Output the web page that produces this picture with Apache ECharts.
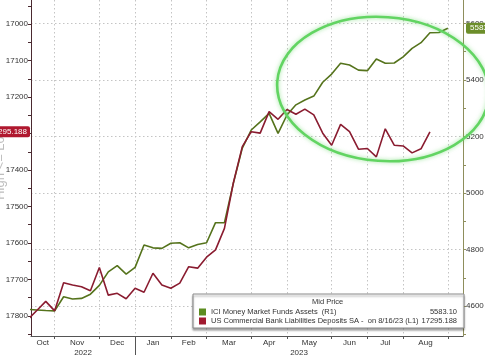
<!DOCTYPE html>
<html>
<head>
<meta charset="utf-8">
<script src="https://cdn.jsdelivr.net/npm/echarts@6.0.0/dist/echarts.min.js"></script>
<style>
html, body { margin: 0; padding: 0; background: #fff; }
#main { width: 485px; height: 355px; }
</style>
</head>
<body>
<div id="main"></div>
<script>
// weekly observations (Wednesdays)
var weeks = [
  '2022-10-12', '2022-10-19', '2022-10-26', '2022-11-02', '2022-11-09', '2022-11-16',
  '2022-11-23', '2022-11-30', '2022-12-07', '2022-12-14', '2022-12-21', '2022-12-28',
  '2023-01-04', '2023-01-11', '2023-01-18', '2023-01-25', '2023-02-01', '2023-02-08',
  '2023-02-15', '2023-02-22', '2023-03-01', '2023-03-08', '2023-03-15', '2023-03-22',
  '2023-03-29', '2023-04-05', '2023-04-12', '2023-04-19', '2023-04-26', '2023-05-03',
  '2023-05-10', '2023-05-17', '2023-05-24', '2023-05-31', '2023-06-07', '2023-06-14',
  '2023-06-21', '2023-06-28', '2023-07-05', '2023-07-12', '2023-07-19', '2023-07-26',
  '2023-08-02', '2023-08-09', '2023-08-16', '2023-08-23', '2023-08-30', '2023-09-06'
];

// ICI Money Market Funds Assets (R1), $bn
var moneyMarket = [
  4588, 4586, 4584, 4583, 4633, 4625, 4627, 4642, 4673, 4721, 4743, 4713,
  4737, 4816, 4806, 4804, 4822, 4824, 4806, 4818, 4824, 4895, 4895, 5035,
  5159, 5223, 5252, 5282, 5211, 5276, 5312, 5329, 5343, 5392, 5421, 5459,
  5453, 5435, 5433, 5474, 5459, 5460, 5482, 5512, 5532, 5567, 5568, 5583.10
];

// US Commercial Bank Liabilities Deposits SA (L1, inverted), $bn
var bankDeposits = [
  17810, 17785, 17760, 17786, 17709, 17715, 17720, 17731, 17667, 17743, 17738, 17753,
  17724, 17735, 17683, 17715, 17724, 17710, 17665, 17669, 17639, 17619, 17560, 17435,
  17336, 17295, 17299, 17240, 17261, 17234, 17247, 17233, 17249, 17299, 17332, 17275,
  17295, 17343, 17341, 17364, 17287, 17332, 17334, 17353, 17342, 17295.188
];

var monthNames = ['Jan', 'Feb', 'Mar', 'Apr', 'May', 'Jun', 'Jul', 'Aug', 'Sep', 'Oct', 'Nov', 'Dec'];
var leftLabels = [17000, 17100, 17200, 17300, 17400, 17500, 17600, 17700, 17800];
var leftTicks = [16950, 17000, 17050, 17100, 17150, 17200, 17250, 17300, 17350, 17400, 17450,
  17500, 17550, 17600, 17650, 17700, 17750, 17800, 17850];
var rightLabels = [4600, 4800, 5000, 5200, 5400, 5600];
var rightTicks = [4500, 4600, 4700, 4800, 4900, 5000, 5100, 5200, 5300, 5400, 5500, 5600];

var mmName = 'ICI Money Market Funds Assets';
var bdName = 'US Commercial Bank Liabilities Deposits SA';

var xMin = 0.35, xMax = 48.7;
var font = "'Liberation Sans Narrow', 'Liberation Sans', Arial, sans-serif";

// month boundaries = first week of each month, labels centred between them
var bounds = [], yearBreaks = [];
for (var i = 1; i < weeks.length; i++) {
  if (weeks[i].slice(5, 7) !== weeks[i - 1].slice(5, 7)) bounds.push(i);
  if (weeks[i].slice(0, 4) !== weeks[i - 1].slice(0, 4)) yearBreaks.push(i);
}
var monthMarks = [];
var edges = [xMin].concat(bounds);
for (var k = 0; k < edges.length - 1; k++) {
  var idx = k === 0 ? 0 : edges[k];
  monthMarks.push({ v: (edges[k] + edges[k + 1]) / 2, t: monthNames[+weeks[idx].slice(5, 7) - 1] });
}
var yearMarks = [];
var yEdges = [xMin].concat(yearBreaks, [xMax]);
for (var k = 0; k < yEdges.length - 1; k++) {
  var yi = k === 0 ? 0 : yEdges[k];
  yearMarks.push({ v: (yEdges[k] + yEdges[k + 1]) / 2, t: weeks[yi].slice(0, 4) });
}
function markText(list, v) {
  for (var j = 0; j < list.length; j++) if (Math.abs(list[j].v - v) < 1e-6) return list[j].t;
  return '';
}
function plain(v) { return String(v); }

var mmData = moneyMarket.map(function (v, i) { return [i, v]; });
var bdData = bankDeposits.map(function (v, i) { return [i, v]; });
var mmLast = moneyMarket[moneyMarket.length - 1];
var bdLast = bankDeposits[bankDeposits.length - 1];

var gridLine = { show: true, lineStyle: { color: '#c4c4c4', type: [1.5, 2.5], width: 1 } };
var tickText = { fontSize: 8, color: '#333', fontFamily: font };

var chart = echarts.init(document.getElementById('main'), null, { renderer: 'canvas' });
var option = {
  animation: false,
  backgroundColor: '#fff',
  grid: { left: 31, right: 22, top: 0, bottom: 19, outerBoundsMode: 'none', containLabel: false },
  title: {
    text: 'Mid Price', left: 312, top: 298, padding: 0, z: 10,
    textStyle: { fontSize: 7.5, fontWeight: 'normal', color: '#333', fontFamily: font }
  },
  legend: {
    orient: 'vertical', left: 193, top: 294,
    padding: [14, 7, 3, 6], itemGap: 1, itemWidth: 7, itemHeight: 7,
    icon: 'rect', selectedMode: false,
    backgroundColor: '#fff', borderColor: '#8a8a8a', borderWidth: 1,
    shadowColor: 'rgba(0,0,0,0.35)', shadowBlur: 2, shadowOffsetY: 2,
    data: [mmName, bdName],
    formatter: function (name) {
      if (name === mmName) return '{n|' + name + '  (R1)}{v|' + mmLast.toFixed(2) + '}';
      return '{n|' + name + ' -  on 8/16/23 (L1)}{v|' + bdLast.toFixed(3) + '}';
    },
    textStyle: {
      fontSize: 7.5, color: '#333', fontFamily: font,
      rich: {
        n: { width: 203, fontSize: 7.5, fontFamily: font, color: '#333' },
        v: { width: 43, align: 'right', fontSize: 7.5, fontFamily: font, color: '#333' }
      }
    }
  },
  xAxis: [
    {
      type: 'value', min: xMin, max: xMax,
      axisLine: { show: true, lineStyle: { color: '#555', width: 1 } },
      axisTick: { show: true, customValues: bounds, length: 3, lineStyle: { color: '#555' } },
      axisLabel: Object.assign({ customValues: monthMarks.map(function (m) { return m.v; }), margin: 3,
        formatter: function (v) { return markText(monthMarks, v); } }, tickText),
      splitLine: gridLine
    },
    {
      type: 'value', min: xMin, max: xMax, position: 'bottom', offset: 10,
      axisLine: { show: false }, axisTick: { show: false }, splitLine: { show: false },
      axisLabel: Object.assign({ customValues: yearMarks.map(function (m) { return m.v; }), margin: 3,
        formatter: function (v) { return markText(yearMarks, v); } }, tickText)
    },
    {
      type: 'value', min: xMin, max: xMax, position: 'bottom',
      axisLine: { show: false }, axisLabel: { show: false }, splitLine: { show: false },
      axisTick: { show: true, customValues: yearBreaks, length: 20, lineStyle: { color: '#555' } }
    }
  ],
  yAxis: [
    {
      type: 'value', inverse: true, min: 16934, max: 17855, position: 'left',
      name: 'High <= L0', nameLocation: 'middle', nameGap: 24, nameRotate: 90,
      nameMoveOverlap: false,
      nameTextStyle: { fontSize: 13, color: '#bdbdbd', fontFamily: font },
      axisLine: { show: true, lineStyle: { color: '#4a2a30', width: 1 } },
      axisTick: { show: true, customValues: leftTicks, length: 3, lineStyle: { color: '#4a2a30' } },
      axisLabel: Object.assign({ customValues: leftLabels, margin: 3, formatter: plain }, tickText),
      splitLine: { show: false }
    },
    {
      type: 'value', min: 4494, max: 5683, position: 'right',
      axisLine: { show: true, lineStyle: { color: '#8e8e5c', width: 1 } },
      axisTick: { show: true, customValues: rightTicks, length: 3, lineStyle: { color: '#8e8e5c' } },
      axisLabel: Object.assign({ customValues: rightLabels, margin: 3, formatter: plain }, tickText),
      splitLine: { show: false }
    },
    {
      type: 'value', min: 4494, max: 5683, position: 'right',
      axisLine: { show: false }, axisLabel: { show: false },
      axisTick: { show: false, customValues: rightLabels },
      splitLine: gridLine
    }
  ],
  series: [
    {
      name: mmName, type: 'line', xAxisIndex: 0, yAxisIndex: 1,
      data: mmData, showSymbol: false, symbol: 'none',
      itemStyle: { color: '#5c8c20' },
      lineStyle: { color: '#55731c', width: 1.6 },
      markLine: {
        silent: true, symbol: ['none', 'none'], animation: false,
        lineStyle: { color: 'rgba(0,0,0,0)', width: 0.1 },
        label: {
          position: 'end', distance: 3, formatter: mmLast.toFixed(2), align: 'left',
          color: '#fff', backgroundColor: '#6c8e2a', borderRadius: 2, padding: [2, 3, 1, 4],
          fontSize: 8, fontFamily: font
        },
        data: [{ yAxis: mmLast }]
      }
    },
    {
      name: bdName, type: 'line', xAxisIndex: 0, yAxisIndex: 0,
      data: bdData, showSymbol: false, symbol: 'none',
      itemStyle: { color: '#a11a30' },
      lineStyle: { color: '#8a1c30', width: 1.6 },
      markLine: {
        silent: true, symbol: ['none', 'none'], animation: false,
        lineStyle: { color: 'rgba(0,0,0,0)', width: 0.1 },
        label: {
          position: 'start', distance: 1, formatter: String(bdLast), align: 'right',
          color: '#fff', backgroundColor: '#b0182f', borderRadius: 2, padding: [2, 3, 1, 3],
          fontSize: 8, fontFamily: font
        },
        data: [{ yAxis: bdLast }]
      }
    }
  ],
  graphic: [
    {
      type: 'ellipse', z: 100, silent: true,
      x: 383, y: 89, rotation: -0.07,
      shape: { cx: 0, cy: 0, rx: 106, ry: 72 },
      style: {
        fill: 'none', stroke: '#62d462', lineWidth: 2.6,
        shadowColor: 'rgba(90,210,90,0.6)', shadowBlur: 4
      }
    }
  ]
};
chart.setOption(option);
</script>
</body>
</html>
